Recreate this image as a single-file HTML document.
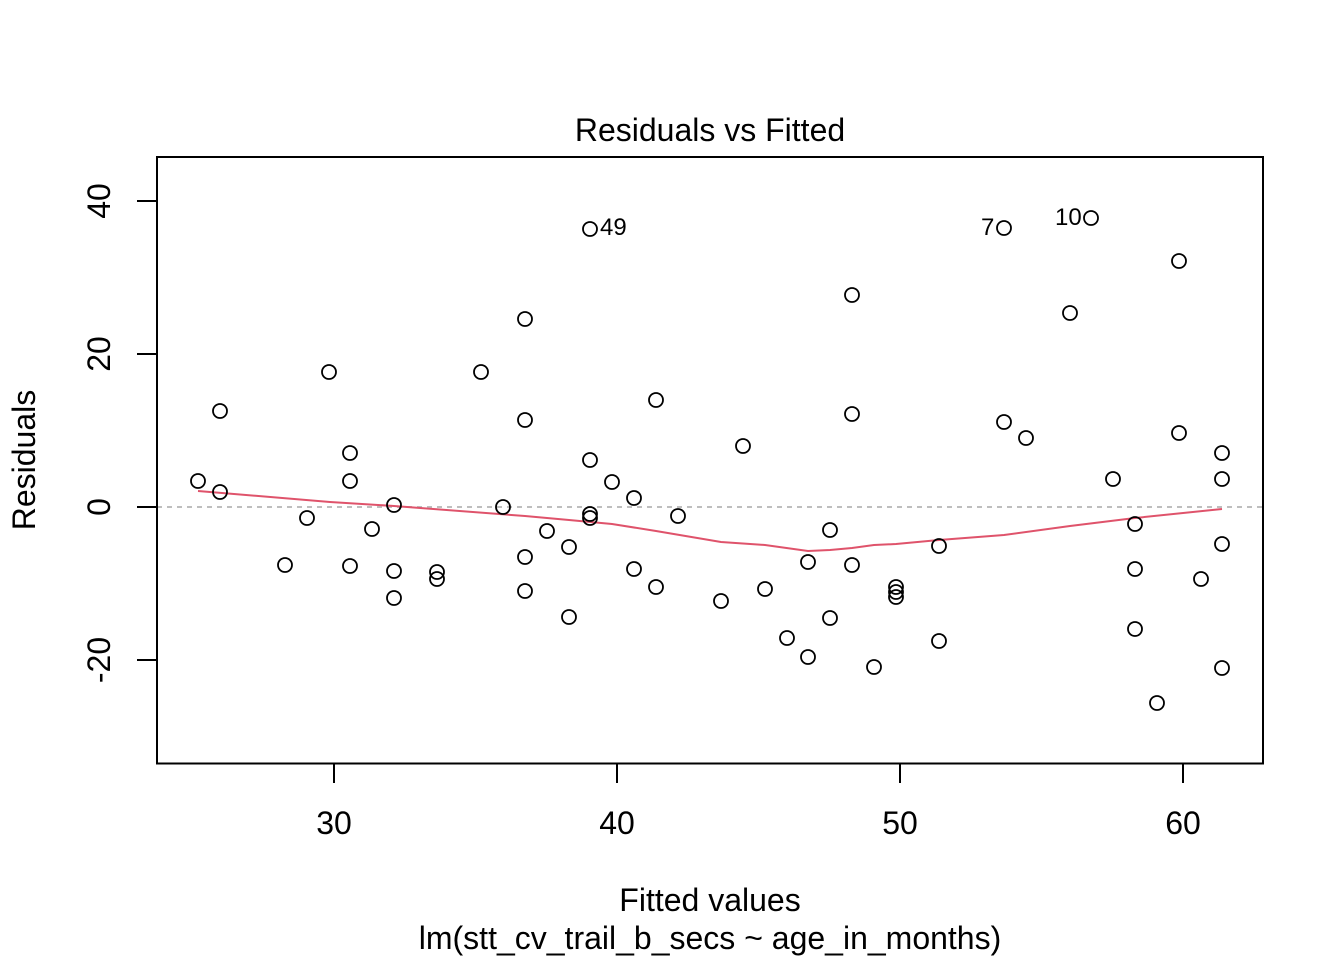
<!DOCTYPE html>
<html><head><style>html,body{margin:0;padding:0;background:#fff}</style></head>
<body>
<svg width="1344" height="960" xmlns="http://www.w3.org/2000/svg" font-family="Liberation Sans, Arial, sans-serif">
<rect width="1344" height="960" fill="#fff"/>
<line x1="157" y1="507" x2="1263" y2="507" stroke="#bebebe" stroke-width="2" stroke-dasharray="5,5"/>
<polyline fill="none" stroke="#DF536B" stroke-width="2" points="198,491 330,502 394,506 525,516 569,520 612,524 656,531 721,542 765,545 808,551 830,550 852,548 874,545 896,544 939,540 1004,535 1070,526 1135,518 1222,509"/>
<g fill="none" stroke="#000" stroke-width="1.8">
<circle cx="198" cy="481" r="7"/><circle cx="220" cy="411" r="7"/><circle cx="220" cy="492" r="7"/><circle cx="285" cy="565" r="7"/><circle cx="307" cy="518" r="7"/><circle cx="329" cy="372" r="7"/><circle cx="350" cy="453" r="7"/><circle cx="350" cy="481" r="7"/><circle cx="350" cy="566" r="7"/><circle cx="372" cy="529" r="7"/><circle cx="394" cy="505" r="7"/><circle cx="394" cy="571" r="7"/><circle cx="394" cy="598" r="7"/><circle cx="437" cy="572" r="7"/><circle cx="437" cy="579" r="7"/><circle cx="481" cy="372" r="7"/><circle cx="503" cy="507" r="7"/><circle cx="525" cy="319" r="7"/><circle cx="525" cy="420" r="7"/><circle cx="525" cy="557" r="7"/><circle cx="525" cy="591" r="7"/><circle cx="547" cy="531" r="7"/><circle cx="569" cy="547" r="7"/><circle cx="569" cy="617" r="7"/><circle cx="590" cy="229" r="7"/><circle cx="590" cy="460" r="7"/><circle cx="590" cy="514" r="7"/><circle cx="590" cy="518" r="7"/><circle cx="612" cy="482" r="7"/><circle cx="634" cy="498" r="7"/><circle cx="634" cy="569" r="7"/><circle cx="656" cy="400" r="7"/><circle cx="656" cy="587" r="7"/><circle cx="678" cy="516" r="7"/><circle cx="721" cy="601" r="7"/><circle cx="743" cy="446" r="7"/><circle cx="765" cy="589" r="7"/><circle cx="787" cy="638" r="7"/><circle cx="808" cy="562" r="7"/><circle cx="808" cy="657" r="7"/><circle cx="830" cy="530" r="7"/><circle cx="830" cy="618" r="7"/><circle cx="852" cy="295" r="7"/><circle cx="852" cy="414" r="7"/><circle cx="852" cy="565" r="7"/><circle cx="874" cy="667" r="7"/><circle cx="896" cy="587" r="7"/><circle cx="896" cy="592" r="7"/><circle cx="896" cy="597" r="7"/><circle cx="939" cy="546" r="7"/><circle cx="939" cy="641" r="7"/><circle cx="1004" cy="228" r="7"/><circle cx="1004" cy="422" r="7"/><circle cx="1026" cy="438" r="7"/><circle cx="1070" cy="313" r="7"/><circle cx="1091" cy="218" r="7"/><circle cx="1113" cy="479" r="7"/><circle cx="1135" cy="524" r="7"/><circle cx="1135" cy="569" r="7"/><circle cx="1135" cy="629" r="7"/><circle cx="1157" cy="703" r="7"/><circle cx="1179" cy="261" r="7"/><circle cx="1179" cy="433" r="7"/><circle cx="1201" cy="579" r="7"/><circle cx="1222" cy="453" r="7"/><circle cx="1222" cy="479" r="7"/><circle cx="1222" cy="544" r="7"/><circle cx="1222" cy="668" r="7"/>
</g>
<g font-size="24" fill="#000">
<text x="600" y="235">49</text>
<text x="981" y="235">7</text>
<text x="1055" y="225">10</text>
</g>
<rect x="157" y="157" width="1106" height="606.5" fill="none" stroke="#000" stroke-width="2"/>
<g stroke="#000" stroke-width="2">
<line x1="334" y1="763" x2="334" y2="783"/><line x1="617" y1="763" x2="617" y2="783"/><line x1="900" y1="763" x2="900" y2="783"/><line x1="1183" y1="763" x2="1183" y2="783"/>
<line x1="137" y1="201" x2="157" y2="201"/><line x1="137" y1="354" x2="157" y2="354"/><line x1="137" y1="507" x2="157" y2="507"/><line x1="137" y1="660" x2="157" y2="660"/>
</g>
<g font-size="32" fill="#000" text-anchor="middle">
<text x="334" y="834">30</text><text x="617" y="834">40</text><text x="900" y="834">50</text><text x="1183" y="834">60</text>
<text transform="translate(110,201) rotate(-90)">40</text>
<text transform="translate(110,354) rotate(-90)">20</text>
<text transform="translate(110,507) rotate(-90)">0</text>
<text transform="translate(110,660) rotate(-90)">-20</text>
<text transform="translate(35,460) rotate(-90)">Residuals</text>
<text x="710" y="141">Residuals vs Fitted</text>
<text x="710" y="911">Fitted values</text>
<text x="710" y="949">lm(stt_cv_trail_b_secs ~ age_in_months)</text>
</g>
</svg>
</body></html>
